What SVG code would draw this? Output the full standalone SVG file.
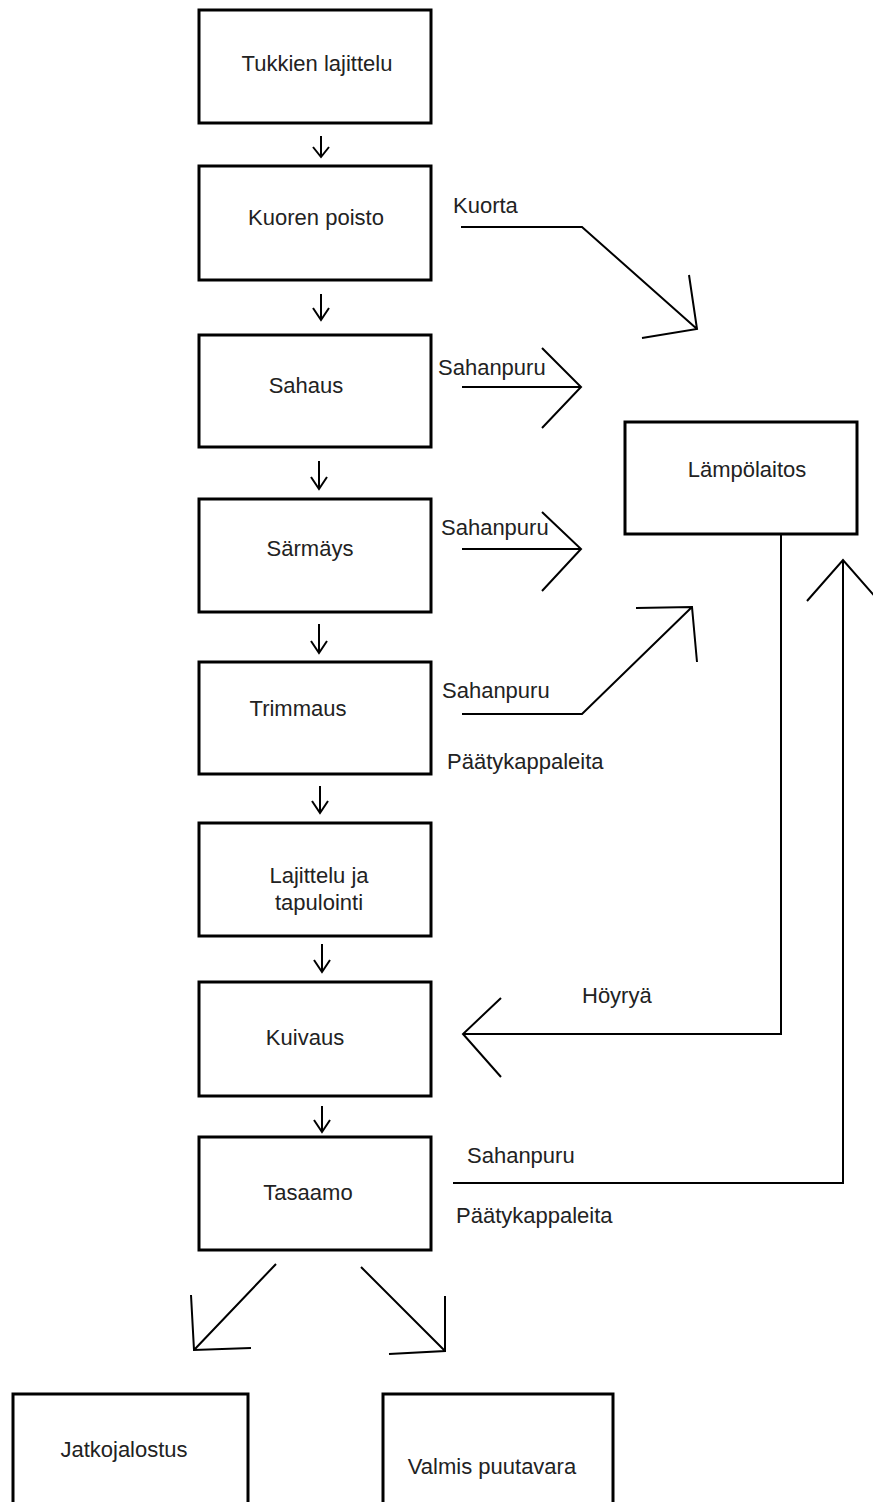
<svg xmlns="http://www.w3.org/2000/svg" width="873" height="1502" viewBox="0 0 873 1502">
<style>
.box{fill:#fff;stroke:#000;stroke-width:3}
.t{font-family:"Liberation Sans",Arial,sans-serif;font-size:22px;fill:#222}
.c{text-anchor:middle}
.ln{fill:none;stroke:#000;stroke-width:2;stroke-linejoin:miter}
</style>
<rect width="873" height="1502" fill="#fff"/>
<g id="n-tukkien"><rect class="box" x="199" y="10" width="232" height="113"/><text class="t c" x="317" y="71">Tukkien lajittelu</text></g>
<g id="n-kuoren"><rect class="box" x="199" y="166" width="232" height="114"/><text class="t c" x="316" y="225">Kuoren poisto</text></g>
<g id="n-sahaus"><rect class="box" x="199" y="335" width="232" height="112"/><text class="t c" x="306" y="393">Sahaus</text></g>
<g id="n-sarmays"><rect class="box" x="199" y="499" width="232" height="113"/><text class="t c" x="310" y="556">Särmäys</text></g>
<g id="n-trimmaus"><rect class="box" x="199" y="662" width="232" height="112"/><text class="t c" x="298" y="716">Trimmaus</text></g>
<g id="n-lajittelu"><rect class="box" x="199" y="823" width="232" height="113"/><text class="t c" x="319" y="883">Lajittelu ja</text><text class="t c" x="319" y="910">tapulointi</text></g>
<g id="n-kuivaus"><rect class="box" x="199" y="982" width="232" height="114"/><text class="t c" x="305" y="1045">Kuivaus</text></g>
<g id="n-tasaamo"><rect class="box" x="199" y="1137" width="232" height="113"/><text class="t c" x="308" y="1200">Tasaamo</text></g>
<g id="n-lampo"><rect class="box" x="625" y="422" width="232" height="112"/><text class="t c" x="747" y="477">Lämpölaitos</text></g>
<g id="n-jatko"><rect class="box" x="13" y="1394" width="235" height="120"/><text class="t c" x="124" y="1457">Jatkojalostus</text></g>
<g id="n-valmis"><rect class="box" x="383" y="1394" width="230" height="120"/><text class="t c" x="492" y="1474">Valmis puutavara</text></g>
<g id="connectors">
<path class="ln" d="M321 136V157M313 147L321 157L329 147"/>
<path class="ln" d="M321 294V320M313 308L321 320L329 308"/>
<path class="ln" d="M319 461V489M311 477L319 489L327 477"/>
<path class="ln" d="M319 624V653M311 641L319 653L327 641"/>
<path class="ln" d="M320 786V813M312 801L320 813L328 801"/>
<path class="ln" d="M322 944V972M314 960L322 972L330 960"/>
<path class="ln" d="M322 1106V1132M314 1120L322 1132L330 1120"/>
<path class="ln" d="M461 227H582L697 329M689 275L697 329L642 338"/>
<path class="ln" d="M462 387H581M542 348L581 387L542 428"/>
<path class="ln" d="M462 549H581M542 512L581 549L542 591"/>
<path class="ln" d="M462 714H582L692 607M636 608L692 607L697 662"/>
<path class="ln" d="M781 534V1034H463M501 998L463 1034L501 1077"/>
<path class="ln" d="M453 1183H843V560M807 601L843 560L879 601"/>
<path class="ln" d="M276 1264L194 1350M191 1295L194 1350L251 1348"/>
<path class="ln" d="M361 1267L445 1351M445 1296L445 1351L389 1354"/>
<text class="t" x="453" y="213">Kuorta</text>
<text class="t" x="438" y="375">Sahanpuru</text>
<text class="t" x="441" y="535">Sahanpuru</text>
<text class="t" x="442" y="698">Sahanpuru</text>
<text class="t" x="447" y="769">Päätykappaleita</text>
<text class="t" x="582" y="1003">Höyryä</text>
<text class="t" x="467" y="1163">Sahanpuru</text>
<text class="t" x="456" y="1223">Päätykappaleita</text>
</g>
</svg>
